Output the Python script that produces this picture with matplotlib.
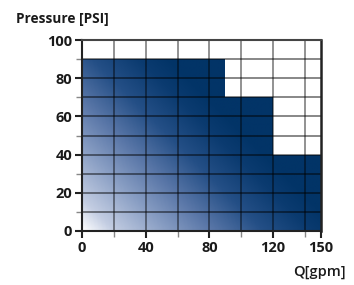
import matplotlib.pyplot as plt
import numpy as np
from matplotlib.colors import LinearSegmentedColormap
from matplotlib.patches import Polygon

# pump operating envelope: max pressure per flow range
flow_edges = [0, 90, 120, 150]
pressure_max = [90, 70, 40]

x_ticks = [0, 40, 80, 120, 150]
y_ticks = [0, 20, 40, 60, 80, 100]

plt.rcParams['font.family'] = ['Open Sans', 'DejaVu Sans']

fig = plt.figure(figsize=(3.54, 2.85), dpi=100)
ax = fig.add_axes([0.2316, 0.1895, 0.675, 0.670])
ax.set_xlim(0, 150)
ax.set_ylim(0, 100)

# diagonal white -> navy gradient
cmap = LinearSegmentedColormap.from_list(
    'g',
    [(0.0, '#ffffff'), (0.12, '#c3cde2'), (0.32, '#8a9fc4'), (0.5, '#5a77a8'),
     (0.7, '#244f86'), (0.88, '#0b3b70'), (1.0, '#023467')],
    N=256)
nx, ny = 300, 200
u = np.linspace(0, 1, nx)
v = np.linspace(0, 1, ny)
U, V = np.meshgrid(u, v)
t = np.clip((U * 239 + V * 191) / 260.0, 0, 1)
img = ax.imshow(t, extent=[0, 150, 0, 100], origin='lower', cmap=cmap,
                aspect='auto', interpolation='bilinear', zorder=1)

verts = [(flow_edges[0], 0)]
for i, p in enumerate(pressure_max):
    verts.append((flow_edges[i], p))
    verts.append((flow_edges[i + 1], p))
verts.append((flow_edges[-1], 0))
clip = Polygon(verts, closed=True, transform=ax.transData, facecolor='none', edgecolor='none')
ax.add_patch(clip)
img.set_clip_path(clip)

for gx in range(20, 150, 20):
    ax.axvline(gx, color='black', alpha=0.5, lw=1.2, zorder=2)
for gy in range(10, 100, 10):
    ax.axhline(gy, color='black', alpha=0.55, lw=1.2, zorder=2)

ax.set_xticks(x_ticks)
ax.set_xticks([20, 60, 100, 140], minor=True)
ax.set_yticks(y_ticks)
ax.set_yticks(range(10, 100, 20), minor=True)
ax.tick_params(axis='both', which='major', length=5, width=1.5, color='#222222',
               labelsize=10.5, pad=2)
ax.tick_params(axis='both', which='minor', length=4, width=1, color='#888888')
for lab in ax.get_xticklabels() + ax.get_yticklabels():
    lab.set_fontweight('bold')
    lab.set_color('#1a1a1a')

for s in ['left', 'bottom']:
    ax.spines[s].set_color('#222222')
    ax.spines[s].set_linewidth(1.5)
ax.spines['top'].set_color('#444444')
ax.spines['top'].set_linewidth(1.5)
ax.spines['right'].set_color('#222222')
ax.spines['right'].set_linewidth(1.8)

fig.text(0.045, 0.935, 'Pressure [PSI]', fontsize=9.8, fontweight='bold', color='#1a1a1a',
         ha='left', va='center')
fig.text(0.977, 0.045, 'Q[gpm]', fontsize=10.5, fontweight='semibold', color='#1a1a1a',
         ha='right', va='center')

fig.savefig('out.png', dpi=100)
